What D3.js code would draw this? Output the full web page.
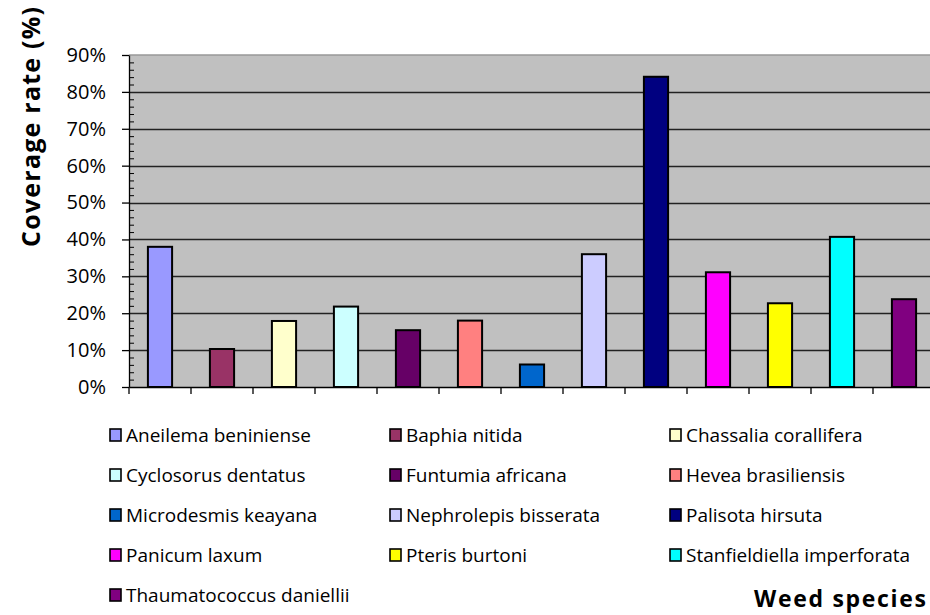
<!DOCTYPE html>
<html><head><meta charset="utf-8">
<script src="https://cdn.jsdelivr.net/npm/d3@7"></script>
<style>body{margin:0;background:#fff}svg{display:block}</style>
</head><body>
<script>
const species = ["Aneilema beniniense","Baphia nitida","Chassalia corallifera","Cyclosorus dentatus","Funtumia africana","Hevea brasiliensis","Microdesmis keayana","Nephrolepis bisserata","Palisota hirsuta","Panicum laxum","Pteris burtoni","Stanfieldiella imperforata","Thaumatococcus daniellii"];
const coverage = [0.38,0.103,0.179,0.218,0.154,0.18,0.061,0.36,0.841,0.311,0.227,0.407,0.238];
const colors = ["#9999FF","#993366","#FFFFCC","#CCFFFF","#660066","#FF8080","#0066CC","#CCCCFF","#000080","#FF00FF","#FFFF00","#00FFFF","#800080"];
const yTicks = [0,0.1,0.2,0.3,0.4,0.5,0.6,0.7,0.8,0.9];
const yTitle = "Coverage rate (%)";
const xTitle = "Weed species";

const W=930,H=615;
const font = "'Open Sans', 'DejaVu Sans', sans-serif";
const svg = d3.select("body").append("svg").attr("width",W).attr("height",H);
const x0=129, x1=935, yb=387, yt=55;
const x = d3.scaleBand().domain(species).range([x0,x1]).paddingInner(0.61).paddingOuter(0.305);
const y = d3.scaleLinear().domain([0,0.9]).range([yb,yt]);

svg.append("rect").attr("x",x0).attr("y",yt).attr("width",x1-x0).attr("height",yb-yt).attr("fill","#C0C0C0");
svg.append("line").attr("x1",x0).attr("x2",x1).attr("y1",yt).attr("y2",yt).attr("stroke","#999").attr("stroke-width",1.5);
// gridlines
svg.append("g").selectAll("line").data(yTicks.slice(1,-1)).join("line")
  .attr("x1",x0).attr("x2",x1).attr("y1",d=>Math.round(y(d))+0.5).attr("y2",d=>Math.round(y(d))+0.5)
  .attr("stroke","#222").attr("stroke-width",1.3);
// bars
svg.append("g").selectAll("rect").data(species).join("rect")
  .attr("x",d=>x(d)).attr("width",x.bandwidth())
  .attr("y",(d,i)=>y(coverage[i])).attr("height",(d,i)=>yb-y(coverage[i]))
  .attr("fill",(d,i)=>colors[i]).attr("stroke","#000").attr("stroke-width",2);
// y axis
const yAxis = svg.append("g").attr("transform",`translate(${x0},0)`)
  .call(d3.axisLeft(y).tickValues(yTicks).tickFormat(d3.format(".0%")).tickSize(7).tickSizeOuter(0));
yAxis.select(".domain").attr("stroke","#000").attr("stroke-width",1.3);
yAxis.selectAll(".tick line").attr("stroke","#000").attr("stroke-width",1.3);
yAxis.selectAll("text").attr("font-family",font).attr("font-size",20).attr("fill","#000").attr("x",-23);
// minor ticks
const minor = d3.range(0,91,2).filter(v=>v%10!==0).map(v=>v/100);
svg.append("g").attr("transform",`translate(${x0},0)`).call(d3.axisRight(y).tickValues(minor).tickSize(5).tickFormat(""))
  .call(g=>{g.select(".domain").remove();g.selectAll(".tick line").attr("stroke","#000").attr("stroke-width",1);});
// x axis
const xAxis = svg.append("g").attr("transform",`translate(0,${yb})`)
  .call(d3.axisBottom(x).tickFormat("").tickSize(0).tickSizeOuter(0));
xAxis.select(".domain").attr("stroke","#000").attr("stroke-width",1.3);
const bounds = species.map(s=>x(s)-x.step()*x.paddingInner()/2).concat([x1]);
svg.append("g").selectAll("line").data(bounds).join("line")
  .attr("x1",d=>d).attr("x2",d=>d).attr("y1",yb).attr("y2",yb+7).attr("stroke","#000").attr("stroke-width",1.3);
// y title
svg.append("text").attr("transform","translate(40,127) rotate(-90)").attr("text-anchor","middle")
  .attr("font-family",font).attr("font-weight","bold").attr("font-size",25)
  .attr("textLength",240).text(yTitle);
// x title
svg.append("text").attr("x",926).attr("y",607).attr("text-anchor","end")
  .attr("font-family",font).attr("font-weight","bold").attr("font-size",23)
  .attr("textLength",172).text(xTitle);
// legend
const colX=[109,389,669];
const leg = svg.append("g").selectAll("g").data(species).join("g")
  .attr("transform",(d,i)=>`translate(${colX[i%3]},${435+Math.floor(i/3)*40})`);
leg.append("rect").attr("x",1).attr("y",-6).attr("width",11).attr("height",12)
  .attr("fill",(d,i)=>colors[i]).attr("stroke","#000").attr("stroke-width",1.6);
leg.append("text").attr("x",17).attr("y",0).attr("dy","0.35em")
  .attr("font-family",font).attr("font-size",19).text(d=>d);
</script>
</body></html>
